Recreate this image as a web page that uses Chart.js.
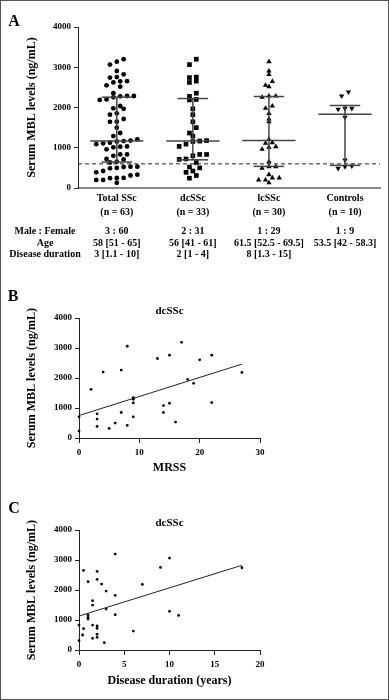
<!DOCTYPE html>
<html>
<head>
<meta charset="utf-8">
<script src="https://cdn.jsdelivr.net/npm/chart.js@4.4.0/dist/chart.umd.min.js"></script>
<style>
body { margin: 0; background: #fff; }
#fig { position: relative; width: 389px; height: 700px; background: #fff; font-family: "Liberation Serif", "Times New Roman", serif; font-weight: bold; color: #000; }
#fig canvas { position: absolute; left: 0; }
.frame { position: absolute; left: 0; top: 0; width: 387px; height: 698px; border: 1px solid #555; pointer-events: none; }
.t { position: absolute; white-space: nowrap; transform: translate(-50%, -50%); line-height: 1; font-size: 10px; }
.big { font-size: 16px; }
</style>
</head>
<body>
<div id="fig">
  <canvas id="ca" width="389" height="225" style="top:0px"></canvas>
  <canvas id="cb" width="389" height="185" style="top:295px"></canvas>
  <canvas id="cc" width="389" height="195" style="top:500px"></canvas>
  <div class="t big" style="left:14px;top:21px">A</div>
  <div class="t big" style="left:13px;top:296px">B</div>
  <div class="t big" style="left:14px;top:508px">C</div>
  <div id="tbl"></div>
  <div class="frame"></div>
</div>
<script>
// panel A
const groups = ['Total SSc', 'dcSSc', 'lcSSc', 'Controls'];
const groupN = ['(n = 63)', '(n = 33)', '(n = 30)', '(n = 10)'];
const dcMBL = [833, 311, 500, 2655, 711, 2277, 1166, 1089, 1033, 1644, 1500, 833, 389, 2622, 2355, 800, 722,
  522, 422, 2200, 244, 1966, 1366, 3200, 1822, 1178, 633, 2189, 2755, 3066, 1289, 1155, 2744];
const lcMBL = [130, 200, 200, 250, 250, 330, 489, 530, 530, 654, 961, 1011, 1027, 1110, 1126, 1209, 1648, 1714,
  1855, 1980, 2037, 2253, 2286, 2286, 2517, 2551, 2650, 2824, 2907, 3138];
const ctrlMBL = [489, 530, 547, 696, 1756, 1956, 1980, 1980, 2286, 2385];
const totalMBL = dcMBL.concat(lcMBL);
const medians = [1165, 1165, 1180, 1835];
const q1s = [645, 700, 537, 562];
const q3s = [2256, 2223, 2273, 2050];
const cutoff = 600;
const yTicks = [0, 1000, 2000, 3000, 4000];

const rowHeads = ['Male : Female', 'Age', 'Disease duration'];
const maleFemale = ['3 : 60', '2 : 31', '1 : 29', '1 : 9'];
const ageText = ['58 [51 - 65]', '56 [41 - 61]', '61.5 [52.5 - 69.5]', '53.5 [42 - 58.3]'];
const durationText = ['3 [1.1 - 10]', '2 [1 - 4]', '8 [1.3 - 15]', ''];

// panel B
const mrss = [0, 0, 2, 3, 3, 3, 4, 5, 6, 7, 7, 8, 8, 9, 9, 9, 9, 13, 14, 14, 15, 15, 16, 17, 18, 19, 20, 22, 22, 27];
const mblMrss = [707, 232, 1624, 807, 630, 387, 2199, 320, 497, 2265, 851, 3061, 420, 1348, 1293, 1171, 707, 2652,
  1083, 851, 2762, 1160, 530, 3193, 1956, 1823, 2608, 2762, 1182, 2188];
const mrssTicks = [0, 10, 20, 30];
const fitMrss = { a: 750, b: 63.5, x0: 0, x1: 27 };

// panel C
const duration = [0, 0, 0.4, 0.5, 0.5, 1, 1, 1, 1, 1.5, 1.5, 1.5, 1.5, 2, 2, 2, 2, 2, 2, 2.5, 2.8, 3, 3, 4, 4, 4,
  6, 7, 9, 10, 10, 11, 18];
const mblDuration = [833, 311, 500, 2655, 711, 2277, 1166, 1089, 1033, 1644, 1500, 833, 389, 2622, 2355, 800, 722,
  522, 422, 2200, 244, 1966, 1366, 3200, 1822, 1178, 633, 2189, 2755, 3066, 1289, 1155, 2744];
const durTicks = [0, 5, 10, 15, 20];
const fitDur = { a: 1133, b: 94, x0: 0, x1: 18 };

const FONT = '"Liberation Serif", "Times New Roman", serif';
const AXIS = '#222';

// spread values that fall in the same band side by side, like a dot plot
function swarm(vals, cat, band, step) {
  let rows = {};
  vals.forEach(v => {
    let k = Math.floor(v / band);
    (rows[k] = rows[k] || []).push(v);
  });
  let pts = [];
  Object.values(rows).forEach(r => {
    r.sort((a, b) => a - b);
    r.forEach((v, i) => pts.push({ x: cat + (i - (r.length - 1) / 2) * step, y: v }));
  });
  return pts;
}

function seg(x0, y0, x1, y1, extra) {
  return Object.assign({
    data: [{ x: x0, y: y0 }, { x: x1, y: y1 }],
    showLine: true, pointRadius: 0, borderColor: '#444', borderWidth: 1.5, clip: false
  }, extra || {});
}

function yAxis(width) {
  return {
    min: 0, max: 4000,
    afterBuildTicks: s => { s.ticks = yTicks.map(v => ({ value: v })); },
    afterFit: s => { s.width = width; },
    ticks: { font: { family: FONT, size: 9, weight: 'bold' }, color: '#000', padding: 3, callback: v => String(v) },
    grid: { drawOnChartArea: false, tickLength: 4, color: AXIS },
    border: { color: AXIS, width: 1 },
    title: { display: true, text: 'Serum MBL levels (ng/mL)', color: '#000',
      font: { family: FONT, size: 12, weight: 'bold' }, padding: { top: 25, bottom: 0 } }
  };
}

let lines = [];
groups.forEach((g, i) => {
  let c = i + 1;
  lines.push(seg(c - 0.35, medians[i], c + 0.35, medians[i]));
  lines.push(seg(c - 0.2, q3s[i], c + 0.2, q3s[i]));
  lines.push(seg(c - 0.2, q1s[i], c + 0.2, q1s[i]));
  lines.push(seg(c, q1s[i], c, q3s[i]));
});
lines.push(seg(0.49, cutoff, 4.46, cutoff, { borderColor: '#222', borderWidth: 1, borderDash: [4, 3] }));

let dots = [
  { data: swarm(totalMBL, 1, 180, 0.09), pointStyle: 'circle', pointRadius: 2.4 },
  { data: swarm(dcMBL, 2, 170, 0.09), pointStyle: 'rect', pointRadius: 3.3 },
  { data: swarm(lcMBL, 3, 150, 0.09), pointStyle: 'triangle', pointRadius: 3.1 },
  { data: swarm(ctrlMBL, 4, 150, 0.09), pointStyle: 'triangle', pointRadius: 3.1, pointRotation: 180 }
].map(d => Object.assign(d, { backgroundColor: '#000', borderColor: '#000', borderWidth: 0, clip: false }));

let chartA = new Chart(document.querySelector('#ca'), {
  type: 'scatter',
  data: { datasets: lines.concat(dots) },
  options: {
    responsive: false, animation: false, events: [],
    layout: { padding: { top: 27, right: 9, left: 0, bottom: 0 } },
    plugins: { legend: { display: false }, tooltip: { enabled: false } },
    scales: {
      x: {
        type: 'linear', min: 0.49, max: 4.46,
        afterBuildTicks: s => { s.ticks = groups.map((g, i) => ({ value: i + 1 })); },
        afterFit: s => { s.height = 37; },
        ticks: {
          autoSkip: false, maxRotation: 0, padding: 4, color: '#000',
          font: { family: FONT, size: 10, weight: 'bold', lineHeight: 1.33 },
          callback: v => [groups[v - 1], groupN[v - 1]]
        },
        grid: { display: false, drawTicks: false },
        border: { color: '#888', width: 2 }
      },
      y: yAxis(78)
    }
  }
});

// text table under panel A
{
  let tbl = document.querySelector('#tbl');
  let rowsY = [231, 242.5, 254];
  let cols = [maleFemale, ageText, durationText];
  rowHeads.forEach((h, r) => {
    let d = document.createElement('div');
    d.className = 't';
    d.style.left = '45px';
    d.style.top = rowsY[r] + 'px';
    d.textContent = h;
    tbl.appendChild(d);
    cols[r].forEach((txt, i) => {
      if (!txt) return;
      let e = document.createElement('div');
      e.className = 't';
      e.style.left = chartA.scales.x.getPixelForValue(i + 1) + 'px';
      e.style.top = rowsY[r] + 'px';
      e.textContent = txt;
      tbl.appendChild(e);
    });
  });
}

function scatterPanel(el, xs, ys, fit, xTicks, xTitle, titlePad, xHeight, xTitlePad) {
  return new Chart(document.querySelector(el), {
    type: 'scatter',
    data: {
      datasets: [
        { data: xs.map((x, i) => ({ x: x, y: ys[i] })), pointRadius: 1.4, backgroundColor: '#000', borderWidth: 0, clip: false },
        seg(fit.x0, fit.a + fit.b * fit.x0, fit.x1, fit.a + fit.b * fit.x1, { borderColor: '#222', borderWidth: 1 })
      ]
    },
    options: {
      responsive: false, animation: false, events: [],
      layout: { padding: { top: 0, right: 129, left: 0, bottom: 0 } },
      plugins: {
        legend: { display: false }, tooltip: { enabled: false },
        title: { display: true, text: 'dcSSc', color: '#000', fullSize: false,
          font: { family: FONT, size: 11, weight: 'bold' }, padding: { top: titlePad - 0.5, bottom: 0.4 } }
      },
      scales: {
        x: {
          type: 'linear', min: xTicks[0], max: xTicks[xTicks.length - 1],
          afterBuildTicks: s => { s.ticks = xTicks.map(v => ({ value: v })); },
          afterFit: s => { s.height = xHeight; },
          ticks: { font: { family: FONT, size: 9, weight: 'bold' }, color: '#000', padding: 4, maxRotation: 0, callback: v => String(v) },
          grid: { drawOnChartArea: false, tickLength: 5, color: AXIS },
          border: { color: AXIS, width: 1 },
          title: { display: true, text: xTitle, color: '#000',
            font: { family: FONT, size: 12, weight: 'bold' }, padding: { top: 0, bottom: xTitlePad } }
        },
        y: yAxis(79)
      }
    }
  });
}

scatterPanel('#cb', mrss, mblMrss, fitMrss, mrssTicks, 'MRSS', 10, 42, 4.8);
scatterPanel('#cc', duration, mblDuration, fitDur, durTicks, 'Disease duration (years)', 17, 45, 6.8);
</script>
</body>
</html>
